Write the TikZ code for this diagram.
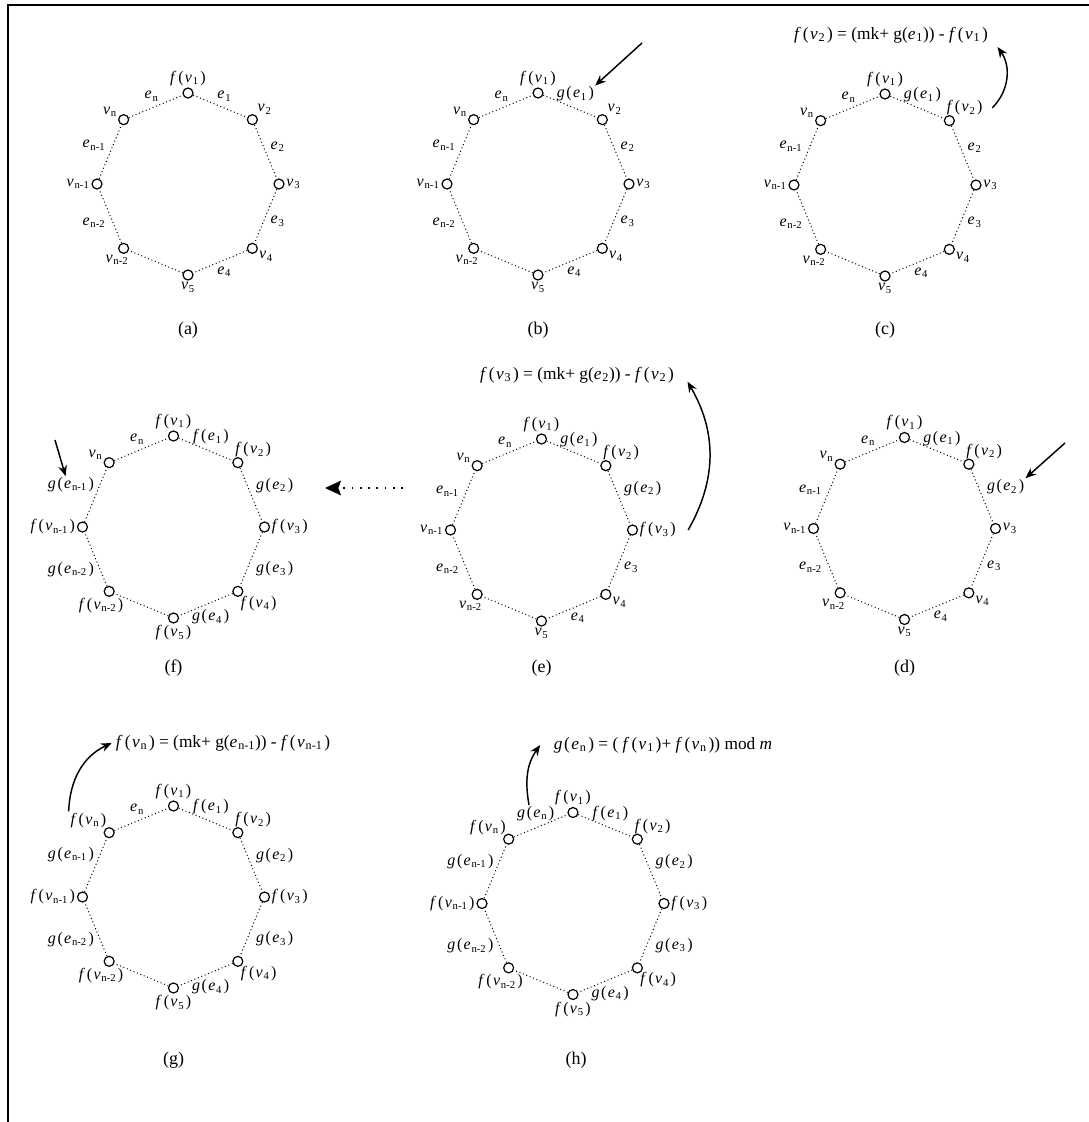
\documentclass[tikz,border=0pt]{standalone}
\usepackage{fontspec}
\setmainfont{Liberation Serif}
\usetikzlibrary{arrows.meta,positioning,calc}

% vertex / edge values
\newcommand{\vlab}[1]{\textit{v}\kern.05em\textsubscript{#1}}
\newcommand{\elab}[1]{\textit{e}\kern.05em\textsubscript{#1}}
\newcommand{\fval}[1]{\textit{f}\kern.12em(\kern.08em\vlab{#1}\kern.1em)}
\newcommand{\gval}[1]{\textit{g}\kern.1em(\kern.08em\elab{#1}\kern.1em)}
\newcommand{\fedge}[1]{\textit{f}\kern.12em(\kern.08em\elab{#1}\kern.1em)}

\tikzset{
  >=Stealth,
  vtx/.style={circle, draw, line width=0.9pt, minimum size=7.5pt, inner sep=0pt},
  edge/.style={dotted, line width=0.75pt},
  vlbl/.style={font=\fontsize{12}{14}\selectfont, inner sep=1.2pt},
  elbl/.style={font=\fontsize{12}{14}\selectfont, inner sep=0.8pt},
  eqn/.style={font=\fontsize{13}{15}\selectfont, inner sep=1pt},
  caption/.style={font=\fontsize{13.5}{16}\selectfont},
  pointer/.style={-{Stealth[length=8pt,width=6.5pt]}, line width=1.1pt},
  bentarrow/.style={-{Stealth[length=8pt,width=6.5pt]}, line width=1.1pt},
  dotarrow/.style={-{Stealth[length=12pt,width=11pt,inset=2pt]}, line width=1.4pt,
    dash pattern=on 1.4pt off 4.8pt},
}

% ring of 8 vertices: #1 name, #2 centre, #3 vertex values, #4 edge no./value
\newcommand{\ring}[4]{%
  \foreach \k in {1,...,8}
    \node[vtx] (#1\k) at ($(#2)+({135-45*\k}:91)$) {};
  \foreach \k in {1,...,8} {
    \pgfmathtruncatemacro{\nxt}{mod(\k,8)+1}
    \draw[edge] (#1\k) -- (#1\nxt);
  }
  \foreach \txt [count=\k] in {#3} {
    \pgfmathtruncatemacro{\ang}{{90,40,0,-30,-90,-120,180,150}[\k-1]}
    \pgfmathtruncatemacro{\anc}{\ang+180}
    \node[vlbl, anchor=\anc] (#1v\k) at (#1\k.\ang) {\txt};
  }
  \foreach \k/\txt in {#4} {
    \pgfmathsetmacro{\ang}{112.5-45*\k}
    \pgfmathsetmacro{\anc}{\ang+180}
    \node[elbl, anchor=\anc] (#1e\k) at ($(#2)+(\ang:88)$) {\txt};
  }
}

\begin{document}
\begin{tikzpicture}[x=0.75pt, y=0.75pt]
\useasboundingbox (0,0) rectangle (1089,-1122);

% frame
\draw[line width=1.5pt] (1089,-5) -- (7.5,-5) -- (7.5,-1122);

% ---- first row ----
\ring{a}{188,-184}{\fval{1},\vlab{2},\vlab{3},\vlab{4},\vlab{5},\vlab{n-2},\vlab{n-1},\vlab{n}}
  {1/\elab{1},2/\elab{2},3/\elab{3},4/\elab{4},6/\elab{n-2},7/\elab{n-1},8/\elab{n}}
\ring{b}{538,-184}{\fval{1},\vlab{2},\vlab{3},\vlab{4},\vlab{5},\vlab{n-2},\vlab{n-1},\vlab{n}}
  {1/\gval{1},2/\elab{2},3/\elab{3},4/\elab{4},6/\elab{n-2},7/\elab{n-1},8/\elab{n}}
\ring{c}{885,-185}{\fval{1},\fval{2},\vlab{3},\vlab{4},\vlab{5},\vlab{n-2},\vlab{n-1},\vlab{n}}
  {1/\gval{1},2/\elab{2},3/\elab{3},4/\elab{4},6/\elab{n-2},7/\elab{n-1},8/\elab{n}}

\node[caption] (capa) at (188,-330) {(a)};
\node[caption] (capb) at (538,-330) {(b)};
\node[caption] (capc) at (885,-330) {(c)};

\coordinate (bstart) at (642,-43);
\draw[pointer] (bstart) -- (be1.north east);

\node[eqn] (ceq) at (891,-35) {\fval{2} = (mk+ g(\elab{1})) - \fval{1}};
\draw[bentarrow] ([xshift=6pt]cv2.east) to[bend right=40] ([xshift=6pt,yshift=-9pt]ceq.east);

% ---- second row ----
\ring{f}{173.5,-527}{\fval{1},\fval{2},\fval{3},\fval{4},\fval{5},\fval{n-2},\fval{n-1},\vlab{n}}
  {1/\fedge{1},2/\gval{2},3/\gval{3},4/\gval{4},6/\gval{n-2},7/\gval{n-1},8/\elab{n}}
\ring{e}{541.5,-530}{\fval{1},\fval{2},\fval{3},\vlab{4},\vlab{5},\vlab{n-2},\vlab{n-1},\vlab{n}}
  {1/\gval{1},2/\gval{2},3/\elab{3},4/\elab{4},6/\elab{n-2},7/\elab{n-1},8/\elab{n}}
\ring{d}{904.5,-528.5}{\fval{1},\fval{2},\vlab{3},\vlab{4},\vlab{5},\vlab{n-2},\vlab{n-1},\vlab{n}}
  {1/\gval{1},2/\gval{2},3/\elab{3},4/\elab{4},6/\elab{n-2},7/\elab{n-1},8/\elab{n}}

\node[caption] (capf) at (173.5,-668) {(f)};
\node[caption] (cape) at (541.5,-668) {(e)};
\node[caption] (capd) at (904.5,-668) {(d)};

\node[eqn] (eeq) at (577,-375) {\fval{3} = (mk+ g(\elab{2})) - \fval{2}};
\draw[bentarrow] ([xshift=8pt]ev3.east) to[bend right=30] ([xshift=9pt,yshift=-5pt]eeq.east);

\coordinate (dstart) at (1065,-443);
\draw[pointer] (dstart) -- (de2.north east);

\coordinate (fstart) at (55,-440);
\draw[pointer] (fstart) -- ([xshift=-4pt]fe7.north);

\coordinate (gofrom) at (403,-488);
\coordinate (goto) at (325,-488);
\draw[dotarrow] (gofrom) -- (goto);

% ---- third row ----
\ring{g}{173.5,-897}{\fval{1},\fval{2},\fval{3},\fval{4},\fval{5},\fval{n-2},\fval{n-1},\fval{n}}
  {1/\fedge{1},2/\gval{2},3/\gval{3},4/\gval{4},6/\gval{n-2},7/\gval{n-1},8/\elab{n}}
\ring{h}{573,-903.5}{\fval{1},\fval{2},\fval{3},\fval{4},\fval{5},\fval{n-2},\fval{n-1},\fval{n}}
  {1/\fedge{1},2/\gval{2},3/\gval{3},4/\gval{4},6/\gval{n-2},7/\gval{n-1},8/\gval{n}}

\node[caption] (capg) at (173.5,-1060) {(g)};
\node[caption] (caph) at (576,-1060) {(h)};

\node[eqn] (geq) at (223,-743) {\fval{n} = (mk+ g(\elab{n-1})) - \fval{n-1}};
\draw[bentarrow] (gv8.north west) to[out=88, in=205] ([xshift=-2pt]geq.west);

\node[eqn] (heq) at (663,-745) {\gval{n} = ( \fval{1}+ \fval{n}) mod \textit{m}};
\draw[bentarrow] ([xshift=-5pt]he8.north) to[out=100, in=235] ([xshift=-9pt]heq.west);

\end{tikzpicture}
\end{document}
